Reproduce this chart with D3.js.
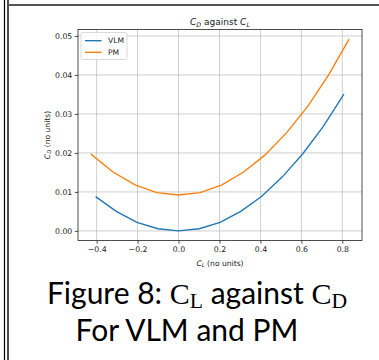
<!DOCTYPE html>
<html>
<head>
<meta charset="utf-8">
<script src="https://cdn.jsdelivr.net/npm/d3@7"></script>
<style>
  html, body { margin: 0; padding: 0; background: #fff; }
  svg { display: block; }
</style>
</head>
<body>
<svg id="chart" width="379" height="360"></svg>
<script>
// lift coefficient / drag coefficient
const vlmCL = [-0.405, -0.304, -0.203, -0.101, 0.0, 0.101, 0.203, 0.304, 0.405, 0.506, 0.607, 0.708, 0.808];
const vlmCD = [0.0088, 0.0050, 0.0022, 0.00055, 0.0, 0.00055, 0.0022, 0.0050, 0.0088, 0.0138, 0.0198, 0.0269, 0.0351];
const pmCL = [-0.428, -0.320, -0.213, -0.106, 0.0, 0.106, 0.212, 0.318, 0.423, 0.528, 0.632, 0.733, 0.833];
const pmCD = [0.0197, 0.0151, 0.0118, 0.0098, 0.0092, 0.0098, 0.0118, 0.0151, 0.0195, 0.0252, 0.0320, 0.0400, 0.0492];

const xTicks = [-0.4, -0.2, 0.0, 0.2, 0.4, 0.6, 0.8];
const yTicks = [0.00, 0.01, 0.02, 0.03, 0.04, 0.05];
const seriesNames = ["VLM", "PM"];
const seriesColors = ["#1f77b4", "#ff7f0e"];

const svg = d3.select("#chart");

// page frame bits (double rule on the left, grey rule on top)
svg.append("line").attr("x1", 4.5).attr("x2", 4.5).attr("y1", 0).attr("y2", 360)
  .attr("stroke", "#000").attr("stroke-width", 1.2);
svg.append("line").attr("x1", 8).attr("x2", 8).attr("y1", 0).attr("y2", 360)
  .attr("stroke", "#000").attr("stroke-width", 1.4);
svg.append("line").attr("x1", 8).attr("x2", 379).attr("y1", 5).attr("y2", 5)
  .attr("stroke", "#555").attr("stroke-width", 2);

const pl = 78, pr = 362, pt = 29.5, pb = 240.5;

// matplotlib style 5% margins around the data
const allX = vlmCL.concat(pmCL), allY = vlmCD.concat(pmCD);
const [x0, x1] = d3.extent(allX), [y0, y1] = d3.extent(allY);
const mx = (x1 - x0) * 0.05, my = (y1 - y0) * 0.05;

const x = d3.scaleLinear().domain([x0 - mx, x1 + mx]).range([pl, pr]);
const y = d3.scaleLinear().domain([y0 - my, y1 + my]).range([pb, pt]);

const g = svg.append("g");

// grid
g.append("g").selectAll("line").data(xTicks).enter().append("line")
  .attr("x1", d => x(d)).attr("x2", d => x(d)).attr("y1", pt).attr("y2", pb)
  .attr("stroke", "#b0b0b0").attr("stroke-width", 0.8).attr("opacity", 0.75);
g.append("g").selectAll("line").data(yTicks).enter().append("line")
  .attr("x1", pl).attr("x2", pr).attr("y1", d => y(d)).attr("y2", d => y(d))
  .attr("stroke", "#b0b0b0").attr("stroke-width", 0.8).attr("opacity", 0.75);

// series
const line = d3.line().x(d => x(d[0])).y(d => y(d[1]));
const series = [d3.zip(vlmCL, vlmCD), d3.zip(pmCL, pmCD)];
g.append("g").selectAll("path").data(series).enter().append("path")
  .attr("d", line)
  .attr("fill", "none")
  .attr("stroke", (d, i) => seriesColors[i])
  .attr("stroke-width", 1.35);

// axes
const xAxis = d3.axisBottom(x).tickValues(xTicks).tickSize(3.2).tickPadding(2.5)
  .tickFormat(d => d3.format(".1f")(d).replace("-", "\u2212"));
const yAxis = d3.axisLeft(y).tickValues(yTicks).tickSize(3.2).tickPadding(2.5)
  .tickFormat(d3.format(".2f"));

const xa = g.append("g").attr("transform", `translate(0,${pb})`).call(xAxis);
const ya = g.append("g").attr("transform", `translate(${pl},0)`).call(yAxis);
[xa, ya].forEach(a => {
  a.select(".domain").remove();
  a.selectAll("text").attr("font-family", "DejaVu Sans").attr("font-size", 7.8).attr("fill", "#222");
  a.selectAll("line").attr("stroke", "#222").attr("stroke-width", 0.8);
});

// axes frame
g.append("rect").attr("x", pl).attr("y", pt).attr("width", pr - pl).attr("height", pb - pt)
  .attr("fill", "none").attr("stroke", "#222").attr("stroke-width", 0.8);

// legend
const lg = g.append("g").attr("transform", `translate(${pl + 3},${pt + 3})`);
lg.append("rect").attr("width", 46).attr("height", 27).attr("rx", 2)
  .attr("fill", "#fff").attr("fill-opacity", 0.8).attr("stroke", "#d0d0d0").attr("stroke-width", 0.8);
seriesNames.forEach((name, i) => {
  const row = lg.append("g").attr("transform", `translate(0,${8.2 + i * 11.6})`);
  row.append("line").attr("x1", 4).attr("x2", 20.5).attr("y1", 0).attr("y2", 0)
    .attr("stroke", seriesColors[i]).attr("stroke-width", 1.35);
  row.append("text").attr("x", 27).attr("y", 2.7)
    .attr("font-family", "DejaVu Sans").attr("font-size", 7.6).attr("fill", "#222").text(name);
});

// labels with subscripts
function mathLabel(sel, base, sub, rest) {
  sel.append("tspan").attr("font-style", "italic").text(base);
  sel.append("tspan").attr("font-style", "italic").attr("font-size", "0.7em").attr("dy", "0.25em").text(sub);
  sel.append("tspan").attr("dy", "-0.18em").text(rest);
}

const title = g.append("text").attr("x", (pl + pr) / 2).attr("y", 25)
  .attr("text-anchor", "middle").attr("font-family", "DejaVu Sans").attr("font-size", 9).attr("fill", "#222");
mathLabel(title, "C", "D", " against ");
title.append("tspan").attr("font-style", "italic").text("C");
title.append("tspan").attr("font-style", "italic").attr("font-size", "0.7em").attr("dy", "0.25em").text("L");

const xl = g.append("text").attr("x", (pl + pr) / 2).attr("y", 266)
  .attr("text-anchor", "middle").attr("font-family", "DejaVu Sans").attr("font-size", 7.6).attr("fill", "#222");
mathLabel(xl, "C", "L", " (no units)");

const yl = g.append("text").attr("transform", `translate(50,${(pt + pb) / 2}) rotate(-90)`)
  .attr("text-anchor", "middle").attr("font-family", "DejaVu Sans").attr("font-size", 7.6).attr("fill", "#222");
mathLabel(yl, "C", "D", " (no units)");

// caption under the figure
const cap = svg.append("g").attr("font-family", "Lato, 'Open Sans', sans-serif").attr("font-size", 30).attr("fill", "#000");
const c1 = cap.append("text").attr("x", 197).attr("y", 304).attr("text-anchor", "middle");
c1.append("tspan").text("Figure 8: ");
c1.append("tspan").attr("font-family", "Liberation Serif").text("C");
c1.append("tspan").attr("font-family", "Liberation Serif").attr("font-size", "0.72em").attr("dy", "0.2em").text("L");
c1.append("tspan").attr("dy", "-0.144em").text(" against ");
c1.append("tspan").attr("font-family", "Liberation Serif").text("C");
c1.append("tspan").attr("font-family", "Liberation Serif").attr("font-size", "0.72em").attr("dy", "0.2em").text("D");
cap.append("text").attr("x", 187).attr("y", 341).attr("text-anchor", "middle").text("For VLM and PM");
</script>
</body>
</html>
